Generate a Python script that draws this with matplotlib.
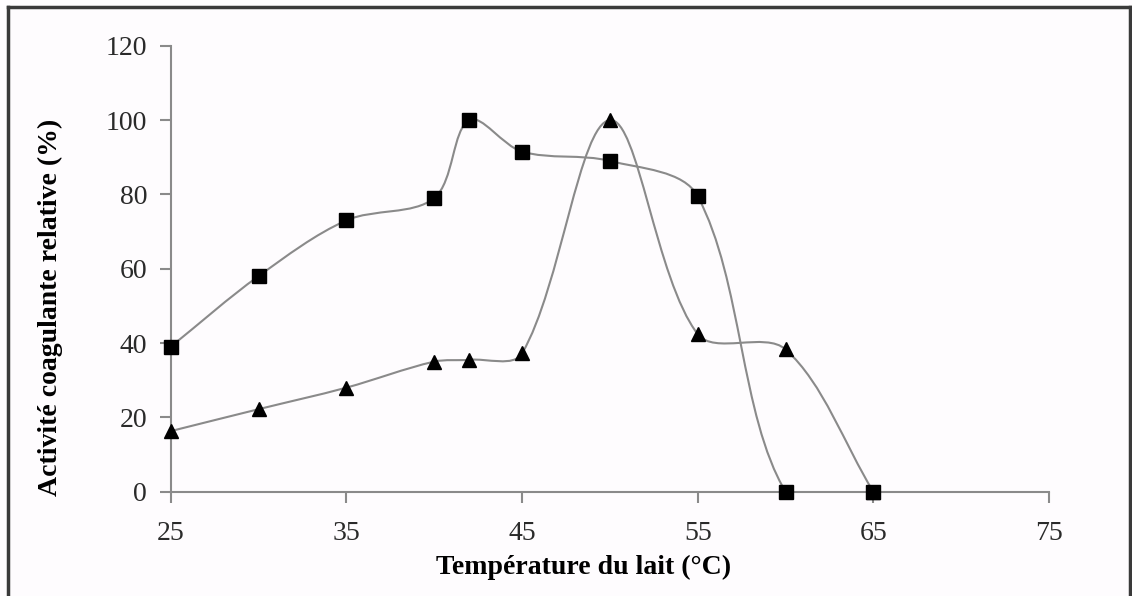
import matplotlib.pyplot as plt
import numpy as np
from matplotlib.path import Path
from matplotlib.patches import PathPatch
from matplotlib.lines import Line2D

plt.rcParams["font.family"] = ["Liberation Serif", "DejaVu Serif"]

# temperatures (°C) and relative coagulating activity (%)
temp_sq = [25, 30, 35, 40, 42, 45, 50, 55, 60, 65]
act_sq = [39, 58, 73, 79, 100, 91.5, 89, 79.5, 0, 0]
temp_tri = [25, 30, 35, 40, 42, 45, 50, 55, 60, 65]
act_tri = [16.3, 22.2, 28, 35, 35.5, 37.2, 100, 42.4, 38.3, 0]

x_ticks = [25, 35, 45, 55, 65, 75]
y_ticks = [0, 20, 40, 60, 80, 100, 120]

LINE = "#8a8a8a"
BG = "#fefcfe"


def smooth_path(ax, x, y):
    """Excel-like smoothed line, built in screen space as cubic Beziers."""
    pts = ax.transData.transform(np.column_stack([x, y]).astype(float))
    P = np.vstack([pts[0], pts, pts[-1]])
    verts = [P[1]]
    codes = [Path.MOVETO]
    for i in range(1, len(P) - 2):
        p0, p1, p2, p3 = P[i - 1], P[i], P[i + 1], P[i + 2]
        d01 = np.hypot(*(p1 - p0))
        d12 = np.hypot(*(p2 - p1))
        d23 = np.hypot(*(p3 - p2))
        c1 = p1 + (p2 - p0) * d12 / (d01 + d12) / 3
        c2 = p2 - (p3 - p1) * d12 / (d12 + d23) / 3
        verts += [c1, c2, p2]
        codes += [Path.CURVE4] * 3
    verts = ax.transData.inverted().transform(np.array(verts))
    return Path(verts, codes)


fig = plt.figure(figsize=(11.32, 5.96), dpi=100, facecolor=BG)
ax = fig.add_axes([0.1508, 0.175, 0.7759, 0.7483])
ax.set_facecolor(BG)
ax.set_xlim(25, 75)
ax.set_ylim(0, 120)

for xs, ys, mk, ms in [(temp_tri, act_tri, "^", 9.5), (temp_sq, act_sq, "s", 9.5)]:
    ax.add_patch(PathPatch(smooth_path(ax, xs, ys), facecolor="none",
                           edgecolor=LINE, lw=1.5, zorder=2))
    ax.plot(xs, ys, ls="none", marker=mk, ms=ms, color="black",
            clip_on=False, zorder=3)

ax.set_xticks(x_ticks)
ax.set_yticks(y_ticks)

for s in ["top", "right"]:
    ax.spines[s].set_visible(False)
for s in ["left", "bottom"]:
    ax.spines[s].set_color(LINE)
    ax.spines[s].set_linewidth(1.5)

ax.tick_params(axis="both", direction="out", length=8, width=1.5,
               color=LINE, labelsize=20, labelcolor="#2a2a2a")
ax.tick_params(axis="x", pad=13)
ax.tick_params(axis="y", pad=9)

fig.text(584 / 1132, 1 - 567 / 596, "Température du lait (°C)",
         ha="center", va="center", fontsize=20, fontweight="bold")
fig.text(50 / 1132, 1 - 307 / 596, "Activité coagulante relative (%)",
         ha="center", va="center", rotation=90, fontsize=20,
         fontweight="bold")

# frame around the picture
for xy in [([8, 1130], [7, 7]), ([8, 8], [7, 600]), ([1130, 1130], [7, 600])]:
    fig.add_artist(Line2D(np.array(xy[0]) / 1132, 1 - np.array(xy[1]) / 596,
                          color="#3a3a3a", lw=2.5))

fig.savefig("out.png", dpi=100, facecolor=BG)
